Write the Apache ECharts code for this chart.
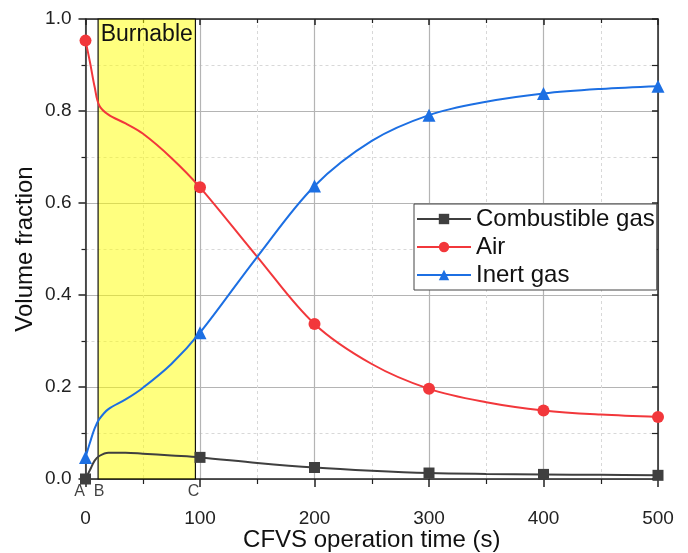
<!DOCTYPE html>
<html>
<head>
<meta charset="utf-8">
<script src="https://cdn.jsdelivr.net/npm/echarts@6/dist/echarts.min.js"></script>
<style>
  html, body { margin: 0; padding: 0; background: #fff; }
  #chart { width: 688px; height: 553px; }
</style>
</head>
<body>
<div id="chart"></div>
<script>
// Sampling times (s) of the CFVS run
const times = [0, 4, 8, 12, 20, 35, 50, 75, 100, 150, 200, 250, 300, 350, 400, 450, 500];
// Times at which a marker is drawn
const markerTimes = [0, 100, 200, 300, 400, 500];

// Volume fractions of each gas component
const combustible = [0, 0.02, 0.04, 0.05, 0.057, 0.057, 0.055, 0.051, 0.047, 0.035, 0.025, 0.018, 0.013, 0.011, 0.010, 0.009, 0.008];
const air = [0.953, 0.905, 0.852, 0.812, 0.792, 0.773, 0.751, 0.698, 0.634, 0.483, 0.337, 0.250, 0.196, 0.167, 0.149, 0.140, 0.135];
const inert = [0.047, 0.080, 0.110, 0.130, 0.152, 0.173, 0.198, 0.250, 0.318, 0.483, 0.637, 0.735, 0.791, 0.820, 0.838, 0.848, 0.854];

// Burnable window and its boundary points
const burnableStart = 11;
const burnableEnd = 96;
const pointLabels = [
  { name: 'A', t: 0, dx: -6 },
  { name: 'B', t: burnableStart, dx: 1 },
  { name: 'C', t: burnableEnd, dx: -2 }
];

const seriesNames = ['Combustible gas', 'Air', 'Inert gas'];
const seriesColors = ['#3f3f3f', '#f2373b', '#1c6fe3'];
const seriesSymbols = ['rect', 'circle', 'triangle'];
const symbolSizes = [11, 12, 13];

const FONT = 'Liberation Sans, Arial, sans-serif';

function buildData(values) {
  return times.map((t, i) => {
    const item = { value: [t, values[i]] };
    if (markerTimes.indexOf(t) < 0) item.symbol = 'none';
    return item;
  });
}

const lineSeries = [combustible, air, inert].map((vals, k) => ({
  name: seriesNames[k],
  type: 'line',
  data: buildData(vals),
  smooth: 0.35,
  showAllSymbol: true,
  symbol: seriesSymbols[k],
  symbolSize: symbolSizes[k],
  itemStyle: { color: seriesColors[k] },
  lineStyle: { color: seriesColors[k], width: 2 },
  z: 5
}));

// Shaded burnable region with its label
lineSeries[0].markArea = {
  silent: true,
  itemStyle: { color: 'rgba(255,255,0,0.5)', borderColor: '#111', borderWidth: 1.2 },
  label: {
    show: true,
    position: 'insideTop',
    distance: 5,
    color: '#111',
    fontSize: 23,
    fontFamily: FONT
  },
  data: [[
    { name: 'Burnable', xAxis: burnableStart, yAxis: 0 },
    { xAxis: burnableEnd, yAxis: 1 }
  ]]
};

const labelSeries = {
  type: 'scatter',
  silent: true,
  symbolSize: 1,
  itemStyle: { color: 'rgba(0,0,0,0)' },
  data: pointLabels.map(p => ({
    value: [p.t, 0],
    label: {
      show: true,
      formatter: p.name,
      position: 'bottom',
      distance: 4,
      offset: [p.dx, 0],
      color: '#111',
      fontSize: 16,
      fontFamily: FONT
    }
  })),
  clip: false,
  z: 6
};

const chart = echarts.init(document.getElementById('chart'), null, { renderer: 'canvas' });

const axisLineStyle = { color: '#222', width: 1.5 };

chart.setOption({
  animation: false,
  backgroundColor: '#fff',
  grid: { left: 85.5, right: 30, top: 19, bottom: 74, containLabel: false, outerBoundsMode: 'none' },
  legend: {
    data: seriesNames,
    orient: 'vertical',
    left: 414,
    top: 204,
    backgroundColor: '#fff',
    borderColor: '#444',
    borderWidth: 1,
    borderRadius: 0,
    padding: [3, 2, 3, 2],
    itemGap: 4,
    itemWidth: 54,
    itemHeight: 13,
    textStyle: { fontSize: 24, color: '#111', fontFamily: FONT, padding: [0, 0, 0, 0] },
    z: 10
  },
  xAxis: [{
    type: 'value',
    min: 0,
    max: 500,
    interval: 100,
    name: 'CFVS operation time (s)',
    nameLocation: 'middle',
    nameGap: 49,
    nameMoveOverlap: false,
    nameTextStyle: { fontSize: 24, color: '#111', fontFamily: FONT },
    axisLine: { show: true, onZero: false, lineStyle: axisLineStyle },
    axisTick: { show: true, inside: false, length: 8, lineStyle: axisLineStyle },
    minorTick: { show: true, splitNumber: 2, length: 5, lineStyle: { color: '#222', width: 1.2 } },
    axisLabel: { fontSize: 19, color: '#222', fontFamily: FONT, margin: 30 },
    splitLine: { show: true, lineStyle: { color: '#b4b4b4', width: 1.2 } },
    minorSplitLine: { show: true, lineStyle: { color: '#d8d8d8', width: 1, type: [3, 3] } }
  }, {
    type: 'value',
    position: 'top',
    min: 0,
    max: 500,
    interval: 100,
    axisLine: { show: true, onZero: false, lineStyle: axisLineStyle },
    axisTick: { show: true, inside: true, length: 6, lineStyle: axisLineStyle },
    minorTick: { show: true, splitNumber: 2, length: 4, lineStyle: { color: '#222', width: 1.2 } },
    axisLabel: { show: false },
    splitLine: { show: false }
  }],
  yAxis: [{
    type: 'value',
    min: 0,
    max: 1,
    interval: 0.2,
    name: 'Volume fraction',
    nameLocation: 'middle',
    nameGap: 48,
    nameMoveOverlap: false,
    nameTextStyle: { fontSize: 24, color: '#111', fontFamily: FONT },
    axisLine: { show: true, onZero: false, lineStyle: axisLineStyle },
    axisTick: { show: true, inside: false, length: 7, lineStyle: axisLineStyle },
    minorTick: { show: true, splitNumber: 2, length: 4, lineStyle: { color: '#222', width: 1.2 } },
    axisLabel: { fontSize: 19, color: '#222', fontFamily: FONT, margin: 14, formatter: v => v.toFixed(1) },
    splitLine: { show: true, lineStyle: { color: '#b4b4b4', width: 1.2 } },
    minorSplitLine: { show: true, lineStyle: { color: '#d8d8d8', width: 1, type: [3, 3] } }
  }, {
    type: 'value',
    position: 'right',
    min: 0,
    max: 1,
    interval: 0.2,
    axisLine: { show: true, onZero: false, lineStyle: axisLineStyle },
    axisTick: { show: true, inside: true, length: 6, lineStyle: axisLineStyle },
    minorTick: { show: true, splitNumber: 2, length: 6, lineStyle: { color: '#222', width: 1.2 } },
    axisLabel: { show: false },
    splitLine: { show: false }
  }],
  series: lineSeries.concat([labelSeries])
});
</script>
</body>
</html>
